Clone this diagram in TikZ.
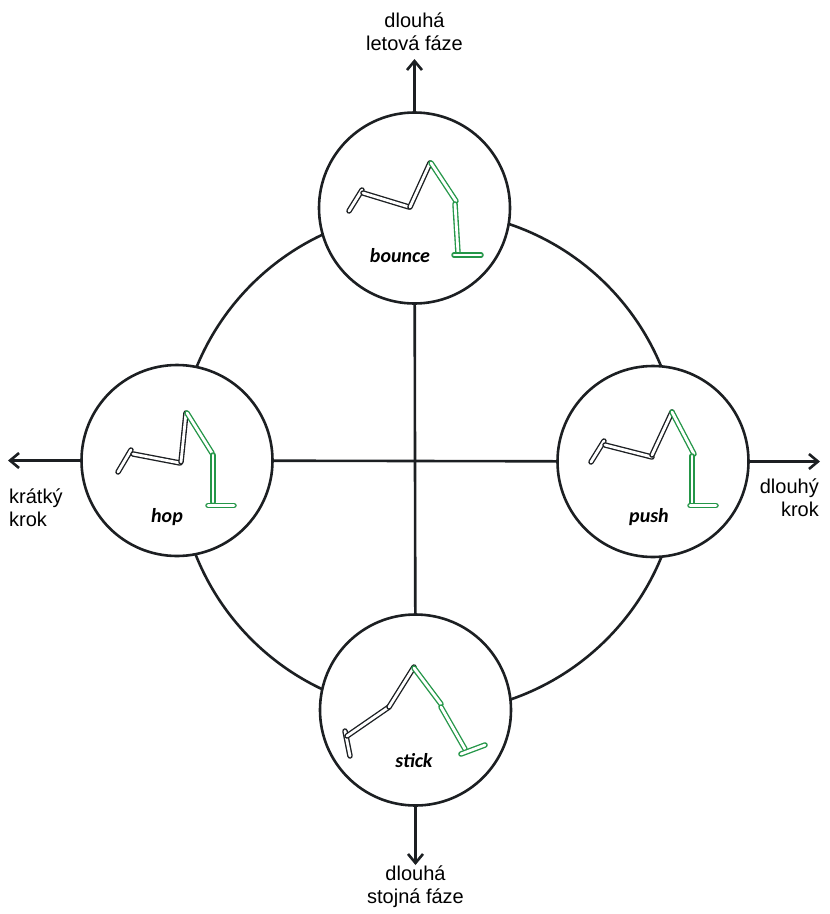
\documentclass[tikz,border=0pt]{standalone}
\usepackage{fontspec}
\usepackage{xcolor}
\usepackage{tikz}
\usetikzlibrary{arrows.meta}
\setmainfont{Liberation Sans}
\newfontfamily\gaitfont{Carlito}

\definecolor{inkdark}{RGB}{28,31,34}
\definecolor{stance}{RGB}{36,150,72}

\tikzset{
  axis/.style={draw=inkdark, line width=2.6pt},
  tip/.style={-{Straight Barb[length=9pt,width=15pt,line width=2.6pt]}},
  phase/.style={circle, axis, fill=white, minimum size=191pt, inner sep=0pt},
  bone/.style={draw=inkdark, double=white, double distance=2.8pt, line width=1.35pt, line cap=round},
  stancebone/.style={bone, draw=stance},
  gait/.style={font=\gaitfont\bfseries\itshape\fontsize{20}{22}\selectfont, inner sep=0pt},
  caption/.style={font=\fontsize{20}{22.5}\selectfont, inner sep=0pt}
}

\begin{document}
\begin{tikzpicture}[x=1pt, y=-1pt]
  \useasboundingbox (0,0) rectangle (830,914);

  % outer ring, behind the four phases
  \draw[axis] (429,462) circle (251pt);

  \node[phase] (bounce) at (414.5,208) {};
  \node[phase] (hop)    at (177,460.5) {};
  \node[phase] (push)   at (653,461.5) {};
  \node[phase] (stick)  at (415.5,710) {};

  \draw[axis] (hop) -- (push);
  \draw[axis] (bounce) -- (stick);

  \coordinate (up)    at (414.5,59);
  \coordinate (left)  at (8,460.5);
  \coordinate (right) at (820,461.5);
  \coordinate (down)  at (415.5,865);
  \draw[axis,tip] (bounce) -- (up);
  \draw[axis,tip] (hop) -- (left);
  \draw[axis,tip] (push) -- (right);
  \draw[axis,tip] (stick) -- (down);

  \node[caption, align=center, anchor=north]      (flight) at (414.5,13) {dlouhá\\letová fáze};
  \node[caption, align=left, anchor=north west]   (short)  at (9,489)    {krátký\\krok};
  \node[caption, align=right, anchor=north east]  (long)   at (819,479)  {dlouhý\\krok};
  \node[caption, align=center, anchor=north]      (ground) at (415.5,866) {dlouhá\\stojná fáze};

  % legs: swing leg black, stance leg green
  \foreach \xa/\ya/\xb/\yb in {349/211/362/190, 363/193/409/207, 410/207/430/163}
    \draw[bone] (\xa,\ya) -- (\xb,\yb);
  \foreach \xa/\ya/\xb/\yb in {431/163/456/201, 455/204/458/253, 454/255/481/255}
    \draw[stancebone] (\xa,\ya) -- (\xb,\yb);
  \node[gait] (bouncetag) at (400,256) {bounce};

  \foreach \xa/\ya/\xb/\yb in {118/472/131/450, 133/454/180/463, 181/462/186/413}
    \draw[bone] (\xa,\ya) -- (\xb,\yb);
  \foreach \xa/\ya/\xb/\yb in {187/413/212/453, 213/455/213/502, 208/505.5/234/505.5}
    \draw[stancebone] (\xa,\ya) -- (\xb,\yb);
  \node[gait] (hoptag) at (167,517) {hop};

  \foreach \xa/\ya/\xb/\yb in {591/462/604/441, 605/445/652/457, 652/455/672/412}
    \draw[bone] (\xa,\ya) -- (\xb,\yb);
  \foreach \xa/\ya/\xb/\yb in {672/412/694/454, 692/456/692/503, 690/505.5/716/505.5}
    \draw[stancebone] (\xa,\ya) -- (\xb,\yb);
  \node[gait] (pushtag) at (649,517) {push};

  \foreach \xa/\ya/\xb/\yb in {345/731/350/756, 347/736/389/707, 389/707/414/667}
    \draw[bone] (\xa,\ya) -- (\xb,\yb);
  \foreach \xa/\ya/\xb/\yb in {414/668/441/704, 441/707/465/749, 461/754/485/745}
    \draw[stancebone] (\xa,\ya) -- (\xb,\yb);
  \node[gait] (sticktag) at (414,761) {stick};
\end{tikzpicture}
\end{document}
